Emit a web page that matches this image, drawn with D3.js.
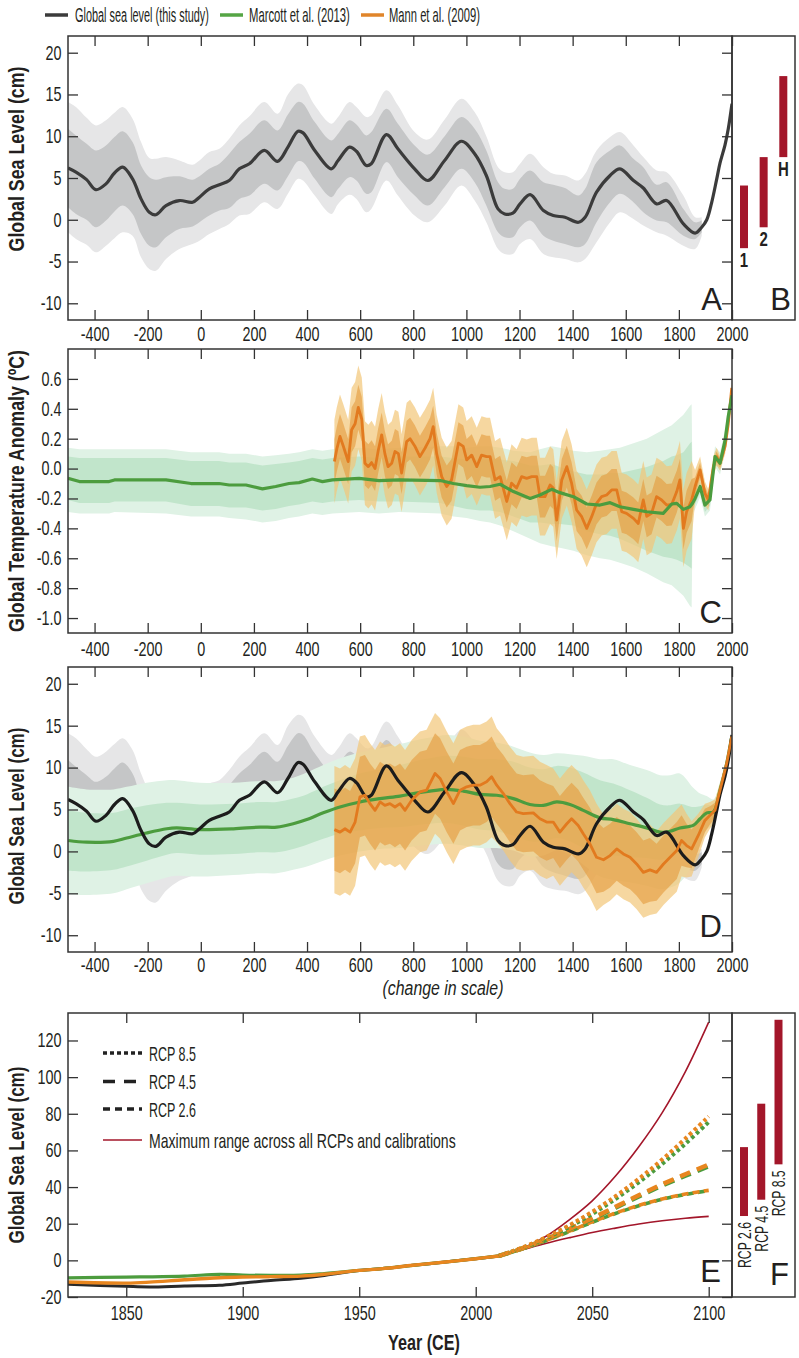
<!DOCTYPE html>
<html><head><meta charset="utf-8">
<script src="https://cdn.jsdelivr.net/npm/d3@7"></script>
<style>
body{margin:0;background:#fff;}
</style></head><body>
<svg id="chart" width="799" height="1358"></svg>
<script>
// ---------------- DATA ----------------
const legendLabels = ["Global sea level (this study)", "Marcott et al. (2013)", "Mann et al. (2009)"];
const histTicks = [-400,-200,0,200,400,600,800,1000,1200,1400,1600,1800,2000];
const slTicks = [-10,-5,0,5,10,15,20];
const tempTicks = [-1.0,-0.8,-0.6,-0.4,-0.2,0.0,0.2,0.4,0.6];
const projXTicks = [1850,1900,1950,2000,2050,2100];
const projYTicks = [-20,0,20,40,60,80,100,120];

// Panel A: global sea level (this study)
const slYears = [-500,-470,-430,-395,-357,-325,-294,-257,-225,-194,-169,-131,-81,-31,-5,32,70,107,145,183,239,289,328,366,385,429,491,517,560,586,623,642,699,742,805,855,918,981,1031,1075,1119,1144,1175,1202,1240,1290,1327,1371,1422,1447,1490,1541,1578,1629,1666,1716,1754,1817,1861,1886,1905,1923,1942,1955,1974,1986,2000];
const slMean = [6.2,5.7,4.8,3.6,4.3,5.6,6.3,4.9,2.5,0.9,0.6,1.7,2.3,2.1,2.7,3.7,4.2,4.7,6.1,6.7,8.3,7.0,8.7,10.6,10.4,8.3,6.1,7.1,8.7,8.2,6.5,6.7,10.2,8.5,6.1,4.7,7.1,9.4,7.9,5.3,1.3,0.7,0.8,1.9,3.0,1.1,0.5,0.3,-0.3,0.3,3.3,5.3,6.1,4.7,3.8,1.9,2.3,-0.5,-1.6,-0.9,0.0,2.0,4.8,6.8,9.0,10.9,13.9];
const slBandYears = [-500,-470,-430,-395,-357,-325,-294,-257,-225,-194,-169,-131,-81,-31,-5,32,70,107,145,183,239,289,328,366,385,429,491,517,560,586,623,642,699,742,805,855,918,981,1031,1075,1119,1144,1175,1202,1240,1290,1327,1371,1422,1447,1490,1541,1578,1629,1666,1716,1754,1817,1861,1886];
const slHi1 = [10.9,10.1,9.1,8.3,8.9,9.9,10.6,9.3,6.5,5.1,4.8,5.1,5.2,4.8,5.2,6.1,6.7,7.9,9.3,10.3,11.9,10.7,12.6,14.1,13.9,11.7,9.5,10.3,11.9,11.4,10.1,10.5,13.3,11.5,8.9,7.8,10.0,12.3,10.9,8.3,4.5,3.7,3.7,4.9,5.9,4.5,4.2,3.8,2.9,3.7,6.9,8.3,8.9,7.3,6.3,4.2,4.5,1.3,-0.3,-0.1];
const slLo1 = [1.5,0.7,0.0,-0.9,-0.1,1.0,1.7,0.7,-1.7,-3.1,-3.3,-2.1,-1.1,-0.8,-0.3,0.5,1.1,1.4,2.5,2.9,4.3,3.5,5.2,7.0,6.9,4.9,2.7,3.7,5.1,4.7,3.1,3.3,6.9,5.1,2.9,1.7,3.9,6.1,4.5,1.7,-1.5,-2.1,-2.1,-0.9,-0.1,-1.9,-2.5,-2.9,-3.3,-2.9,-0.3,2.1,3.1,2.1,0.9,-0.1,-0.3,-1.9,-2.3,-1.5];
const slHi2 = [14.1,13.5,12.2,11.3,11.9,12.8,13.5,12.1,9.3,7.4,7.3,7.5,7.1,6.6,7.1,8.1,8.5,9.7,11.3,12.4,14.1,12.7,15.0,16.3,16.1,13.7,11.5,12.3,14.1,13.5,12.3,12.5,15.5,13.7,10.5,9.6,12.0,14.5,12.9,10.0,6.3,5.7,5.7,6.7,7.9,6.3,5.5,5.3,4.7,5.5,8.3,9.9,10.5,8.9,7.5,5.9,5.7,2.9,0.3,0.3];
const slLo2 = [-1.5,-2.3,-3.0,-3.9,-3.1,-2.2,-1.5,-1.9,-4.5,-5.9,-6.1,-4.7,-3.5,-2.9,-2.5,-1.7,-1.1,-0.5,0.5,0.7,2.1,1.3,3.1,4.9,4.7,2.9,0.7,1.9,3.0,2.5,0.9,1.3,4.7,2.9,0.5,-0.3,1.7,4.1,2.3,-0.3,-3.5,-4.1,-4.1,-2.9,-2.3,-4.1,-4.5,-4.7,-5.1,-4.7,-2.7,-0.3,0.9,0.1,-0.7,-1.5,-1.9,-3.1,-3.5,-1.9];

// Panel B
const bNames = ["1","2","H"];
const bLo = [-3.4,-0.9,7.5];
const bHi = [4.1,7.5,17.2];

// Panel C: Marcott temperature
const mcYears = [-500,-457,-345,-325,-131,-37,69,107,170,232,282,332,370,420,458,496,596,671,746,901,951,1001,1051,1089,1127,1177,1240,1277,1321,1352,1403,1453,1503,1541,1578,1629,1679,1741,1773,1792,1817,1842,1848,1852,1861,1880,1898,1917,1936,1955,1974,1986,2000];
const mcTemp = [-0.065,-0.087,-0.087,-0.076,-0.076,-0.10,-0.10,-0.11,-0.11,-0.136,-0.12,-0.10,-0.094,-0.07,-0.087,-0.076,-0.065,-0.08,-0.076,-0.08,-0.10,-0.114,-0.125,-0.12,-0.105,-0.154,-0.2,-0.177,-0.139,-0.161,-0.188,-0.237,-0.244,-0.228,-0.255,-0.273,-0.289,-0.30,-0.237,-0.233,-0.273,-0.255,-0.24,-0.23,-0.2,-0.12,-0.244,-0.21,0.08,0.036,0.19,0.35,0.49];
const mcInHi = [0.08,0.07,0.07,0.07,0.07,0.05,0.05,0.04,0.04,0.02,0.03,0.04,0.05,0.07,0.06,0.07,0.08,0.07,0.08,0.08,0.07,0.06,0.06,0.06,0.06,0.05,0.02,0.02,0.03,0.01,-0.02,-0.04,-0.04,-0.03,-0.03,-0.01,0.01,0.05,0.08,0.09,0.11,0.17,0.18,-0.19,-0.16,-0.08,-0.20,-0.17,0.12,0.08,0.23,0.39,0.53];
const mcInLo = [-0.21,-0.23,-0.23,-0.22,-0.22,-0.25,-0.25,-0.26,-0.26,-0.28,-0.27,-0.25,-0.24,-0.22,-0.23,-0.22,-0.21,-0.22,-0.22,-0.23,-0.25,-0.27,-0.28,-0.28,-0.29,-0.32,-0.36,-0.36,-0.37,-0.37,-0.38,-0.42,-0.44,-0.45,-0.47,-0.51,-0.55,-0.59,-0.60,-0.61,-0.63,-0.66,-0.67,-0.27,-0.24,-0.16,-0.29,-0.25,0.04,-0.01,0.15,0.31,0.45];
const mcOutHi = [0.14,0.13,0.13,0.13,0.13,0.11,0.11,0.10,0.10,0.08,0.09,0.10,0.11,0.13,0.12,0.13,0.14,0.13,0.14,0.15,0.15,0.14,0.15,0.15,0.14,0.12,0.11,0.13,0.15,0.14,0.12,0.11,0.12,0.13,0.14,0.17,0.20,0.26,0.29,0.32,0.36,0.42,0.43,-0.16,-0.13,-0.05,-0.17,-0.14,0.15,0.11,0.26,0.42,0.56];
const mcOutLo = [-0.29,-0.30,-0.30,-0.29,-0.30,-0.32,-0.32,-0.33,-0.34,-0.36,-0.35,-0.33,-0.32,-0.30,-0.31,-0.30,-0.29,-0.30,-0.29,-0.30,-0.32,-0.33,-0.35,-0.36,-0.38,-0.42,-0.47,-0.50,-0.52,-0.53,-0.55,-0.58,-0.60,-0.61,-0.63,-0.66,-0.70,-0.76,-0.78,-0.81,-0.85,-0.92,-0.93,-0.30,-0.27,-0.19,-0.32,-0.28,0.01,-0.04,0.12,0.28,0.42];

// Panel C: Mann temperature
const mannYears = [503,512,524,537,555,568,581,593,606,618,631,643,656,668,681,693,705,719,731,744,756,775,788,806,825,844,863,875,888,907,926,944,970,988,1001,1020,1039,1057,1076,1089,1108,1127,1152,1170,1189,1208,1227,1246,1265,1277,1296,1315,1327,1340,1359,1378,1396,1415,1434,1453,1472,1490,1509,1528,1547,1566,1585,1603,1629,1647,1666,1679,1697,1716,1735,1754,1773,1792,1804,1817,1829,1848,1861,1880,1898,1911,1930,1942,1955,1974,1986,1999];
const mannTemp = [0.047,0.13,0.215,0.148,0.047,0.26,0.30,0.41,0.33,0.036,0.013,0.04,0.0,0.12,0.226,0.10,0.013,0.036,0.114,0.10,-0.03,0.18,0.2,0.15,0.08,0.136,0.2,0.28,0.10,-0.054,-0.12,-0.076,0.17,0.148,0.058,0.09,0.013,0.09,0.08,0.08,-0.076,-0.054,-0.22,-0.098,-0.13,-0.054,-0.065,-0.054,-0.054,-0.188,-0.188,-0.11,-0.13,-0.345,-0.076,0.013,-0.098,-0.277,-0.322,-0.40,-0.32,-0.233,-0.188,-0.177,-0.143,-0.143,-0.289,-0.30,-0.333,-0.367,-0.21,-0.32,-0.30,-0.188,-0.21,-0.244,-0.24,-0.154,-0.076,-0.40,-0.289,-0.21,-0.12,-0.009,-0.166,-0.21,0.013,0.08,0.036,0.148,0.30,0.54];
const mannTempIn = [0.15,0.15,0.15,0.15,0.15,0.15,0.15,0.15,0.15,0.15,0.15,0.15,0.15,0.15,0.15,0.15,0.15,0.15,0.15,0.15,
 0.14,0.14,0.14,0.14,0.14,0.14,0.14,0.14,0.14,0.14,0.14,0.14,0.14,0.14,0.14,0.14,0.14,0.14,0.14,0.14,0.14,0.14,0.14,0.14,0.14,0.14,0.14,0.14,0.14,0.14,0.14,0.14,0.14,0.14,0.14,0.14,0.14,0.14,0.14,0.14,0.14,0.14,0.14,0.14,0.14,0.14,0.14,0.14,0.14,0.14,0.14,0.14,0.14,0.14,0.14,0.14,0.14,0.14,0.14,0.14,0.14,0.14,
 0.06,0.05,0.045,0.04,0.04,0.035,0.03,0.03,0.025,0.025];
const mannTempOut = [0.28,0.28,0.28,0.28,0.28,0.28,0.28,0.28,0.28,0.28,0.28,0.28,0.28,0.28,0.28,0.28,0.28,0.28,0.28,0.28,
 0.26,0.26,0.26,0.26,0.26,0.26,0.26,0.26,0.26,0.26,0.26,0.26,0.26,0.26,0.26,0.26,0.26,0.26,0.26,0.26,0.26,0.26,0.26,0.26,0.26,0.26,0.26,0.26,0.26,0.26,0.26,0.26,0.26,0.26,0.26,0.26,0.26,0.26,0.26,0.26,0.26,0.26,0.26,0.26,0.26,0.26,0.26,0.26,0.26,0.26,0.26,0.26,0.26,0.26,0.26,0.26,0.26,0.26,0.26,0.26,0.26,0.26,
 0.11,0.09,0.08,0.07,0.07,0.06,0.05,0.05,0.045,0.045];

// Panel D: sea level from Marcott
const mdYears = [-499,-430,-329,-279,-204,-128,-91,-3,123,223,286,348,399,461,524,599,675,750,800,863,926,988,1051,1114,1177,1239,1290,1340,1390,1440,1503,1553,1616,1679,1729,1767,1804,1854,1880,1905,1930,1955,1980,1999];
const mdMean = [1.3,1.1,1.2,1.6,2.2,2.7,2.8,2.6,2.7,2.9,2.9,3.3,3.8,4.6,5.3,5.9,6.3,6.6,6.9,7.2,7.4,7.2,6.8,6.7,6.3,5.6,5.5,5.9,5.6,4.9,4.0,3.8,3.3,2.8,2.3,2.4,2.8,3.1,3.9,4.6,4.7,7.3,10.5,13.7];
const mdIn = [3.6,3.5,3.4,3.4,3.3,3.1,3.0,3.0,3.0,3.0,3.0,3.0,3.0,3.1,3.2,3.4,3.5,3.7,3.8,3.9,4.0,4.1,4.2,4.3,4.4,4.4,4.3,4.3,4.4,4.5,4.5,4.3,4.0,3.6,3.3,3.1,2.9,2.2,1.5,1.0,0.8,0.5,0.3,0.2];
const mdOut = [6.4,6.3,6.2,6.1,6.0,5.8,5.7,5.6,5.5,5.5,5.5,5.5,5.6,5.7,5.8,5.9,6.0,6.2,6.3,6.4,6.5,6.5,6.4,6.3,6.2,6.2,6.0,5.8,6.0,6.5,7.0,7.2,7.0,6.9,6.8,6.7,6.5,4.5,3.0,2.0,1.5,1.0,0.6,0.4];

// Panel D: sea level from Mann
const mdmYears = [503,524,543,562,581,599,618,637,656,675,693,712,731,750,769,794,825,850,882,901,926,951,976,1001,1026,1051,1076,1095,1114,1139,1164,1189,1214,1252,1277,1302,1327,1352,1378,1396,1421,1440,1465,1490,1516,1541,1566,1591,1616,1641,1666,1691,1716,1742,1767,1792,1810,1829,1848,1873,1898,1917,1936,1955,1980,1999];
const mdmMean = [2.6,2.3,2.7,2.3,3.5,6.5,6.7,5.7,4.9,5.9,5.5,5.7,5.3,5.7,4.9,6.1,7.1,7.3,9.3,8.7,7.1,5.7,7.3,7.7,7.9,7.9,8.3,8.9,7.9,6.9,5.7,4.7,4.5,4.6,3.9,3.5,3.5,2.3,3.3,3.9,3.1,2.1,0.9,-0.7,-1.0,-0.5,0.3,-0.3,-0.7,-1.5,-2.5,-2.2,-2.5,-1.5,-0.7,0.1,1.3,0.7,0.3,1.9,3.7,4.3,4.9,7.3,10.5,13.7];
const mdmIn = [4.9,4.9,4.9,4.9,4.9,4.8,4.8,4.8,4.8,4.8,4.8,4.8,4.8,4.8,4.8,4.8,4.8,4.8,4.8,4.8,4.8,4.8,4.8,4.8,4.8,4.8,4.8,4.8,4.6,4.6,4.6,4.6,4.6,4.6,4.6,4.6,4.3,4.3,4.3,4.3,4.3,4.3,4.3,4.3,3.8,3.8,3.8,3.8,3.8,3.8,3.8,3.8,3.4,3.4,3.4,3.4,3.0,2.6,2.3,1.8,1.4,1.1,0.9,0.6,0.4,0.2];
const mdmOut = [7.6,7.6,7.6,7.6,7.6,7.2,7.2,7.2,7.2,7.2,7.2,7.2,7.2,7.2,7.2,7.2,7.2,7.2,7.2,7.2,7.2,7.2,7.2,7.2,7.2,7.2,7.2,7.2,6.8,6.8,6.8,6.8,6.8,6.8,6.8,6.8,6.4,6.4,6.4,6.4,6.4,6.4,6.4,6.4,5.4,5.4,5.4,5.4,5.4,5.4,5.4,5.4,4.9,4.9,4.9,4.9,4.3,3.8,3.3,2.6,2.0,1.6,1.3,0.9,0.6,0.3];

// Panel E: historical and projections
const eHistYears = [1825,1850,1860,1875,1890,1900,1912,1925,1935,1942,1950,1960,1973,1987,2000,2010];
const eHistThis = [-13.1,-14.2,-14.5,-14.0,-13.6,-12.4,-11.0,-9.8,-8.3,-6.9,-5.5,-4.5,-2.7,-0.9,0.9,2.4];
const eHistMann = [-11.8,-12.4,-11.9,-10.6,-9.5,-9.1,-8.9,-8.6,-7.6,-6.6,-5.5,-4.5,-2.7,-0.9,0.9,2.4];
const eHistMarcott = [-9.6,-9.1,-9.0,-8.6,-7.6,-8.0,-8.2,-8.1,-7.2,-6.4,-5.5,-4.5,-2.7,-0.9,0.9,2.4];
const projYears = [2010,2020,2030,2040,2050,2060,2070,2080,2090,2100];
const rcp85Mann = [2.4,7.0,12.5,19,26.5,35,44.5,55,66.5,78.5];
const rcp85Marcott = [2.4,6.8,12,18.2,25.3,33.5,42.6,52.6,63.6,75.5];
const rcp45Mann = [2.4,6.6,11.5,17,23,29.2,35.5,41.5,47,52.3];
const rcp45Marcott = [2.4,6.5,11.3,16.7,22.6,28.7,34.9,40.8,46.2,51.3];
const rcp26Mann = [2.4,6.3,10.8,15.8,21,25.8,30,33.5,36.2,38.2];
const rcp26Marcott = [2.4,6.3,10.7,15.6,20.8,25.6,29.8,33.3,36,38];
const maxUpper = [2.4,6.5,13,22,32.5,46,62,80.5,103,130];
const maxLower = [2.4,5.8,9.2,12.3,15.2,17.6,19.8,21.6,23,24];
const eLegendLabels = ["RCP 8.5","RCP 4.5","RCP 2.6","Maximum range across all RCPs and calibrations"];

// Panel F
const fNames = ["RCP 2.6","RCP 4.5","RCP 8.5"];
const fLo = [24.2,33.1,52.4];
const fHi = [61.8,85.5,131.3];

// ---------------- DRAWING ----------------
const FONT = "'Liberation Sans',Arial,sans-serif";
const TXT = "#231f20";
const SX = 0.72; // horizontal condensation of the label font
const svg = d3.select("#chart").attr("font-family", FONT);
const L = 68, R = 732, RB = 795;

const xH = d3.scaleLinear().domain([-500,2000]).range([L,R]);
const yA = d3.scaleLinear().domain([-12,22]).range([320,36]);
const yC = d3.scaleLinear().domain([-1.1,0.8]).range([633,349]);
const yD = d3.scaleLinear().domain([-12,22]).range([952,667]);
const xE = d3.scaleLinear().domain([1825,2110]).range([L,R]);
const yE = d3.scaleLinear().domain([-20,135]).range([1297,1013]);
const xB = d3.scalePoint().domain(bNames).range([744,783.3]);
const xF = d3.scalePoint().domain(fNames).range([744,778.5]);

// text with horizontal condensation (fit to a target width when given)
function ftext(parent, str, x, y, o){
  o = o || {};
  const t = parent.append("text").attr("font-size", o.size||18).attr("fill", TXT)
    .attr("text-anchor", o.anchor||"start").text(str);
  if (o.weight) t.attr("font-weight", o.weight);
  if (o.style) t.attr("font-style", o.style);
  if (o.baseline) t.attr("dominant-baseline", o.baseline);
  let s = o.scale || SX;
  if (o.target) s = o.target / t.node().getComputedTextLength();
  t.attr("transform", `translate(${x},${y})${o.rot?` rotate(${o.rot})`:""} scale(${s},1)`);
  return t;
}

const defs = svg.append("defs");
function clip(id, y){
  const [b,t] = y.range();
  defs.append("clipPath").attr("id",id).append("rect").attr("x",L).attr("y",t).attr("width",R-L).attr("height",b-t);
  return svg.append("g").attr("clip-path",`url(#${id})`);
}
function band(g, x, y, xs, lo, hi, fill, op, curve){
  const data = xs.map((d,i)=>[d, lo[i], hi[i]]);
  g.append("path").datum(data)
    .attr("d", d3.area().x(d=>x(d[0])).y0(d=>y(d[1])).y1(d=>y(d[2])).curve(curve||d3.curveLinear))
    .attr("fill", fill).attr("fill-opacity", op==null?1:op);
}
function line(g, x, y, xs, ys, stroke, w, curve, dash, off){
  const p = g.append("path").datum(xs.map((d,i)=>[d, ys[i]]))
    .attr("d", d3.line().x(d=>x(d[0])).y(d=>y(d[1])).curve(curve||d3.curveLinear))
    .attr("fill","none").attr("stroke",stroke).attr("stroke-width",w)
    .attr("stroke-linejoin","round");
  if (dash) p.attr("stroke-dasharray",dash).attr("stroke-dashoffset",off||0);
  return p;
}
const plus = (m,h)=>m.map((v,i)=>v+h[i]);
const minus = (m,h)=>m.map((v,i)=>v-h[i]);

function styleAxis(a){
  a.attr("font-family",FONT).attr("font-size",20).attr("color",TXT);
  a.select(".domain").remove();
  a.selectAll(".tick line").attr("stroke","#333").attr("stroke-width",1.3);
  a.selectAll(".tick text").attr("transform",`scale(${SX},1)`);
  return a;
}
function axes(x, y, xt, yt, yfmt, xlab, pad){
  const [b,t] = y.range();
  const g = svg.append("g");
  styleAxis(g.append("g").attr("transform",`translate(0,${t})`).call(d3.axisTop(x).tickValues(xt).tickSize(-10).tickFormat("")));
  styleAxis(g.append("g").attr("transform",`translate(0,${b})`).call(d3.axisBottom(x).tickValues(xt).tickSize(-10).tickPadding(pad).tickFormat(xlab? (d=>String(d)) : "")));
  styleAxis(g.append("g").attr("transform",`translate(${L},0)`).call(d3.axisLeft(y).tickValues(yt).tickSize(-10).tickPadding(9).tickFormat(yfmt)));
  styleAxis(g.append("g").attr("transform",`translate(${R},0)`).call(d3.axisRight(y).tickValues(yt).tickSize(-10).tickFormat("")));
  g.append("rect").attr("x",L).attr("y",t).attr("width",R-L).attr("height",b-t)
    .attr("fill","none").attr("stroke","#333").attr("stroke-width",1.5);
}
function sideBox(y){
  const [b,t] = y.range();
  svg.append("rect").attr("x",R).attr("y",t).attr("width",RB-R).attr("height",b-t)
    .attr("fill","none").attr("stroke","#333").attr("stroke-width",1.5);
}
function yTitle(txt, cy, len){
  ftext(svg, txt, 16, cy, {size:22, weight:"bold", anchor:"middle", baseline:"central", rot:-90, target:len});
}
function letter(t, x, y){
  svg.append("text").attr("x",x).attr("y",y).attr("text-anchor","end")
    .attr("font-family",FONT).attr("font-size",31).attr("fill",TXT).text(t);
}

const GREY1 = "#c5c6c7", GREY2 = "#e6e6e7";
const GIN = "#c1e5cb", GOUT = "#dff2e5";
const OIN = "#e59a3a", OOUT = "#f2c678";
const BLACK = "#3b3b3b", GREEN = "#4c9c3e", ORANGE = "#e27a1f", RED = "#a3162a";
const smooth = d3.curveCatmullRom.alpha(0.5);

// ----- Top legend
const legColors = [BLACK, "#55a545", "#e0852a"];
const legX = [45, 220, 361], legTx = [75, 249, 389], legLen = [134, 101, 91];
legendLabels.forEach((t,i)=>{
  svg.append("line").attr("x1",legX[i]).attr("x2",legX[i]+23).attr("y1",15).attr("y2",15)
    .attr("stroke",legColors[i]).attr("stroke-width",3.5);
  ftext(svg, t, legTx[i], 21.5, {size:20, target:legLen[i]});
});

// ----- Panel A
{
  const g = clip("clipA", yA);
  band(g, xH, yA, slBandYears, slLo2, slHi2, GREY2, 1, smooth);
  band(g, xH, yA, slBandYears, slLo1, slHi1, GREY1, 1, smooth);
  line(g, xH, yA, slYears, slMean, BLACK, 3.2, smooth);
  axes(xH, yA, histTicks, slTicks, d=>String(d), true, 7);
  sideBox(yA);
  // Panel B bars
  const gb = svg.append("g");
  bNames.forEach((n,i)=>{
    gb.append("rect").attr("x",xB(n)-4).attr("width",8).attr("y",yA(bHi[i])).attr("height",yA(bLo[i])-yA(bHi[i])).attr("fill",RED);
    ftext(gb, n, xB(n), yA(bLo[i])+18.5, {size:20, weight:"bold", anchor:"middle", scale:0.75});
  });
  yTitle("Global Sea Level (cm)", 159, 185);
  letter("A", 722, 310); letter("B", 791, 310);
}

// ----- Panel C
{
  const g = clip("clipC", yC);
  band(g, xH, yC, mcYears, mcOutLo, mcOutHi, GOUT, 1);
  band(g, xH, yC, mcYears, mcInLo, mcInHi, GIN, 1);
  band(g, xH, yC, mannYears, minus(mannTemp,mannTempOut), plus(mannTemp,mannTempOut), OOUT, 0.7);
  band(g, xH, yC, mannYears, minus(mannTemp,mannTempIn), plus(mannTemp,mannTempIn), OIN, 0.6);
  line(g, xH, yC, mannYears, mannTemp, ORANGE, 2.8);
  line(g, xH, yC, mcYears, mcTemp, GREEN, 3.2);
  axes(xH, yC, histTicks, tempTicks, d=>d.toFixed(1), true, 9);
  yTitle("Global Temperature Anomaly (ºC)", 491, 282);
  letter("C", 722, 623);
}

// ----- Panel D
{
  const g = clip("clipD", yD);
  band(g, xH, yD, slBandYears, slLo2, slHi2, GREY2, 1, smooth);
  band(g, xH, yD, slBandYears, slLo1, slHi1, GREY1, 1, smooth);
  band(g, xH, yD, mdYears, minus(mdMean,mdOut), plus(mdMean,mdOut), GOUT, 1, smooth);
  band(g, xH, yD, mdYears, minus(mdMean,mdIn), plus(mdMean,mdIn), GIN, 1, smooth);
  band(g, xH, yD, mdmYears, minus(mdmMean,mdmOut), plus(mdmMean,mdmOut), OOUT, 0.7);
  band(g, xH, yD, mdmYears, minus(mdmMean,mdmIn), plus(mdmMean,mdmIn), OIN, 0.6);
  line(g, xH, yD, mdYears, mdMean, GREEN, 3.2, smooth);
  line(g, xH, yD, slYears, slMean, "#1c1c1c", 3.2, smooth);
  line(g, xH, yD, mdmYears, mdmMean, ORANGE, 2.8);
  axes(xH, yD, histTicks, slTicks, d=>String(d), true, 6);
  yTitle("Global Sea Level (cm)", 816, 177);
  letter("D", 722, 937);
  ftext(svg, "(change in scale)", 443, 995, {size:20, style:"italic", anchor:"middle", target:121});
}

// ----- Panel E
{
  const g = clip("clipE", yE);
  line(g, xE, yE, projYears, maxUpper, RED, 1.6, smooth);
  line(g, xE, yE, projYears, maxLower, RED, 1.6, smooth);
  line(g, xE, yE, eHistYears, eHistThis, "#2a2a2a", 3, smooth);
  line(g, xE, yE, eHistYears, eHistMarcott, GREEN, 3.2, smooth);
  line(g, xE, yE, eHistYears, eHistMann, "#e8861f", 3.4, smooth);
  line(g, xE, yE, projYears, rcp26Marcott, GREEN, 3.6, smooth, "7,4", 0);
  line(g, xE, yE, projYears, rcp26Mann, "#e8861f", 3.6, smooth, "7,4", 5);
  line(g, xE, yE, projYears, rcp45Marcott, GREEN, 4.5, smooth, "11,7", 0);
  line(g, xE, yE, projYears, rcp45Mann, "#e8861f", 4.5, smooth, "11,7", 0);
  line(g, xE, yE, projYears, rcp85Marcott, GREEN, 4, smooth, "3.5,3", 0);
  line(g, xE, yE, projYears, rcp85Mann, "#e8861f", 4, smooth, "3.5,3", 0);
  axes(xE, yE, projXTicks, projYTicks, d=>String(d), true, 9);
  sideBox(yE);
  // legend
  const dashes = ["4,3","12,9","7,5",null];
  const ly = [1053, 1081.5, 1109, 1140];
  const lt = [47, 47, 47, 307];
  eLegendLabels.forEach((t,i)=>{
    const ln = svg.append("line").attr("x1",103).attr("x2",142).attr("y1",ly[i]).attr("y2",ly[i])
      .attr("stroke", i===3?RED:"#222").attr("stroke-width", i===3?1.6:3.6);
    if (dashes[i]) ln.attr("stroke-dasharray",dashes[i]);
    ftext(svg, t, 149, ly[i]+7.5, {size:20, target:lt[i]});
  });
  // Panel F bars
  fNames.forEach((n,i)=>{
    svg.append("rect").attr("x",xF(n)-4).attr("width",8).attr("y",yE(fHi[i])).attr("height",yE(fLo[i])-yE(fHi[i])).attr("fill",RED);
    ftext(svg, n, xF(n)+6.5, yE(fLo[i])+6, {size:18.5, anchor:"end", rot:-90, target:46});
  });
  yTitle("Global Sea Level (cm)", 1155, 177);
  letter("E", 721, 1282); letter("F", 789, 1285);
  ftext(svg, "Year (CE)", 424, 1350, {size:22, weight:"bold", anchor:"middle", target:72});
}
</script>
</body></html>
